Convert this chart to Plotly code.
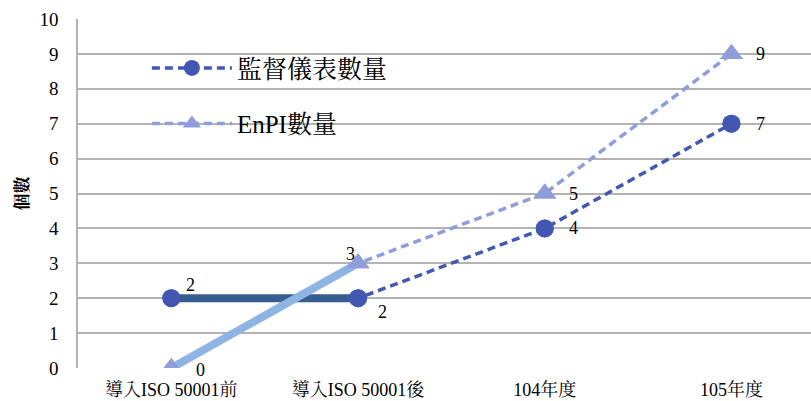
import plotly.graph_objects as go

# Data
categories = ["導入ISO 50001前", "導入ISO 50001後", "104年度", "105年度"]
meters = [2, 2, 4, 7]          # 監督儀表數量
enpi = [0, 3, 5, 9]            # EnPI數量
series_names = ["監督儀表數量", "EnPI數量"]

SERIF = "'Liberation Serif', 'Noto Serif CJK TC', 'Noto Sans CJK TC', serif"
C_METER = "#4258B4"
C_METER_MK = "#4357B2"
C_METER_SOLID = "#365E91"
C_ENPI = "#8F9DDA"
C_ENPI_SOLID = "#8EB4E3"

fig = go.Figure()

# dashed full series (also provide the legend entries)
fig.add_trace(go.Scatter(
    x=categories, y=meters, name=series_names[0], mode="lines+markers",
    line=dict(color=C_METER, width=3.5, dash="8px,5px"),
    marker=dict(symbol="circle", size=18, color=C_METER_MK),
    legendgroup="a",
))
fig.add_trace(go.Scatter(
    x=categories, y=enpi, name=series_names[1], mode="lines+markers",
    line=dict(color=C_ENPI, width=3.5, dash="8px,5px"),
    marker=dict(symbol="triangle-up", size=20, color=C_ENPI),
    legendgroup="b",
))

# solid highlighted first segments
fig.add_trace(go.Scatter(
    x=categories[:2], y=meters[:2], mode="lines", showlegend=False,
    line=dict(color=C_METER_SOLID, width=8), hoverinfo="skip",
))
fig.add_trace(go.Scatter(
    x=categories[:2], y=enpi[:2], mode="lines", showlegend=False,
    line=dict(color=C_ENPI_SOLID, width=8), hoverinfo="skip",
))

# markers on top
fig.add_trace(go.Scatter(
    x=categories, y=meters, mode="markers", showlegend=False,
    marker=dict(symbol="circle", size=18, color=C_METER_MK), hoverinfo="skip",
))
fig.add_trace(go.Scatter(
    x=categories, y=enpi, mode="markers", showlegend=False,
    marker=dict(symbol="triangle-up", size=20, color=C_ENPI), hoverinfo="skip",
))

# value labels
meter_shift = [(19, 13), (24, -14), (29, 0), (29, 0)]
enpi_shift = [(29, -2), (-8, 9), (29, 0), (29, 0)]
for cat, v, (dx, dy) in zip(categories, meters, meter_shift):
    fig.add_annotation(x=cat, y=v, text=str(v), showarrow=False,
                       xshift=dx, yshift=dy, font=dict(family=SERIF, size=18, color="#000"))
for cat, v, (dx, dy) in zip(categories, enpi, enpi_shift):
    fig.add_annotation(x=cat, y=v, text=str(v), showarrow=False,
                       xshift=dx, yshift=dy, font=dict(family=SERIF, size=18, color="#000"))

fig.update_layout(
    width=811, height=401,
    margin=dict(l=78, r=0, t=19, b=33),
    paper_bgcolor="white", plot_bgcolor="white",
    font=dict(family=SERIF, size=18, color="#000"),
    showlegend=True,
    legend=dict(
        x=0.094, y=0.925, xanchor="left", yanchor="top",
        font=dict(family=SERIF, size=25, color="#000"),
        bgcolor="rgba(0,0,0,0)", traceorder="grouped", tracegroupgap=20,
        itemwidth=80,
    ),
    xaxis=dict(
        range=[-0.5, 3.426], showgrid=False, showline=False, zeroline=False,
        tickfont=dict(family=SERIF, size=18), ticklabelstandoff=9,
    ),
    yaxis=dict(
        range=[0, 10], dtick=1, showgrid=True, gridcolor="#B3B3B3", gridwidth=1.5,
        showline=True, linecolor="#B3B3B3", linewidth=1.5, zeroline=False,
        tickfont=dict(family=SERIF, size=19), ticklabelstandoff=14,
        title=dict(text="<b>個數</b>", font=dict(family=SERIF, size=17), standoff=7),
    ),
)

fig.write_html("out.html")
